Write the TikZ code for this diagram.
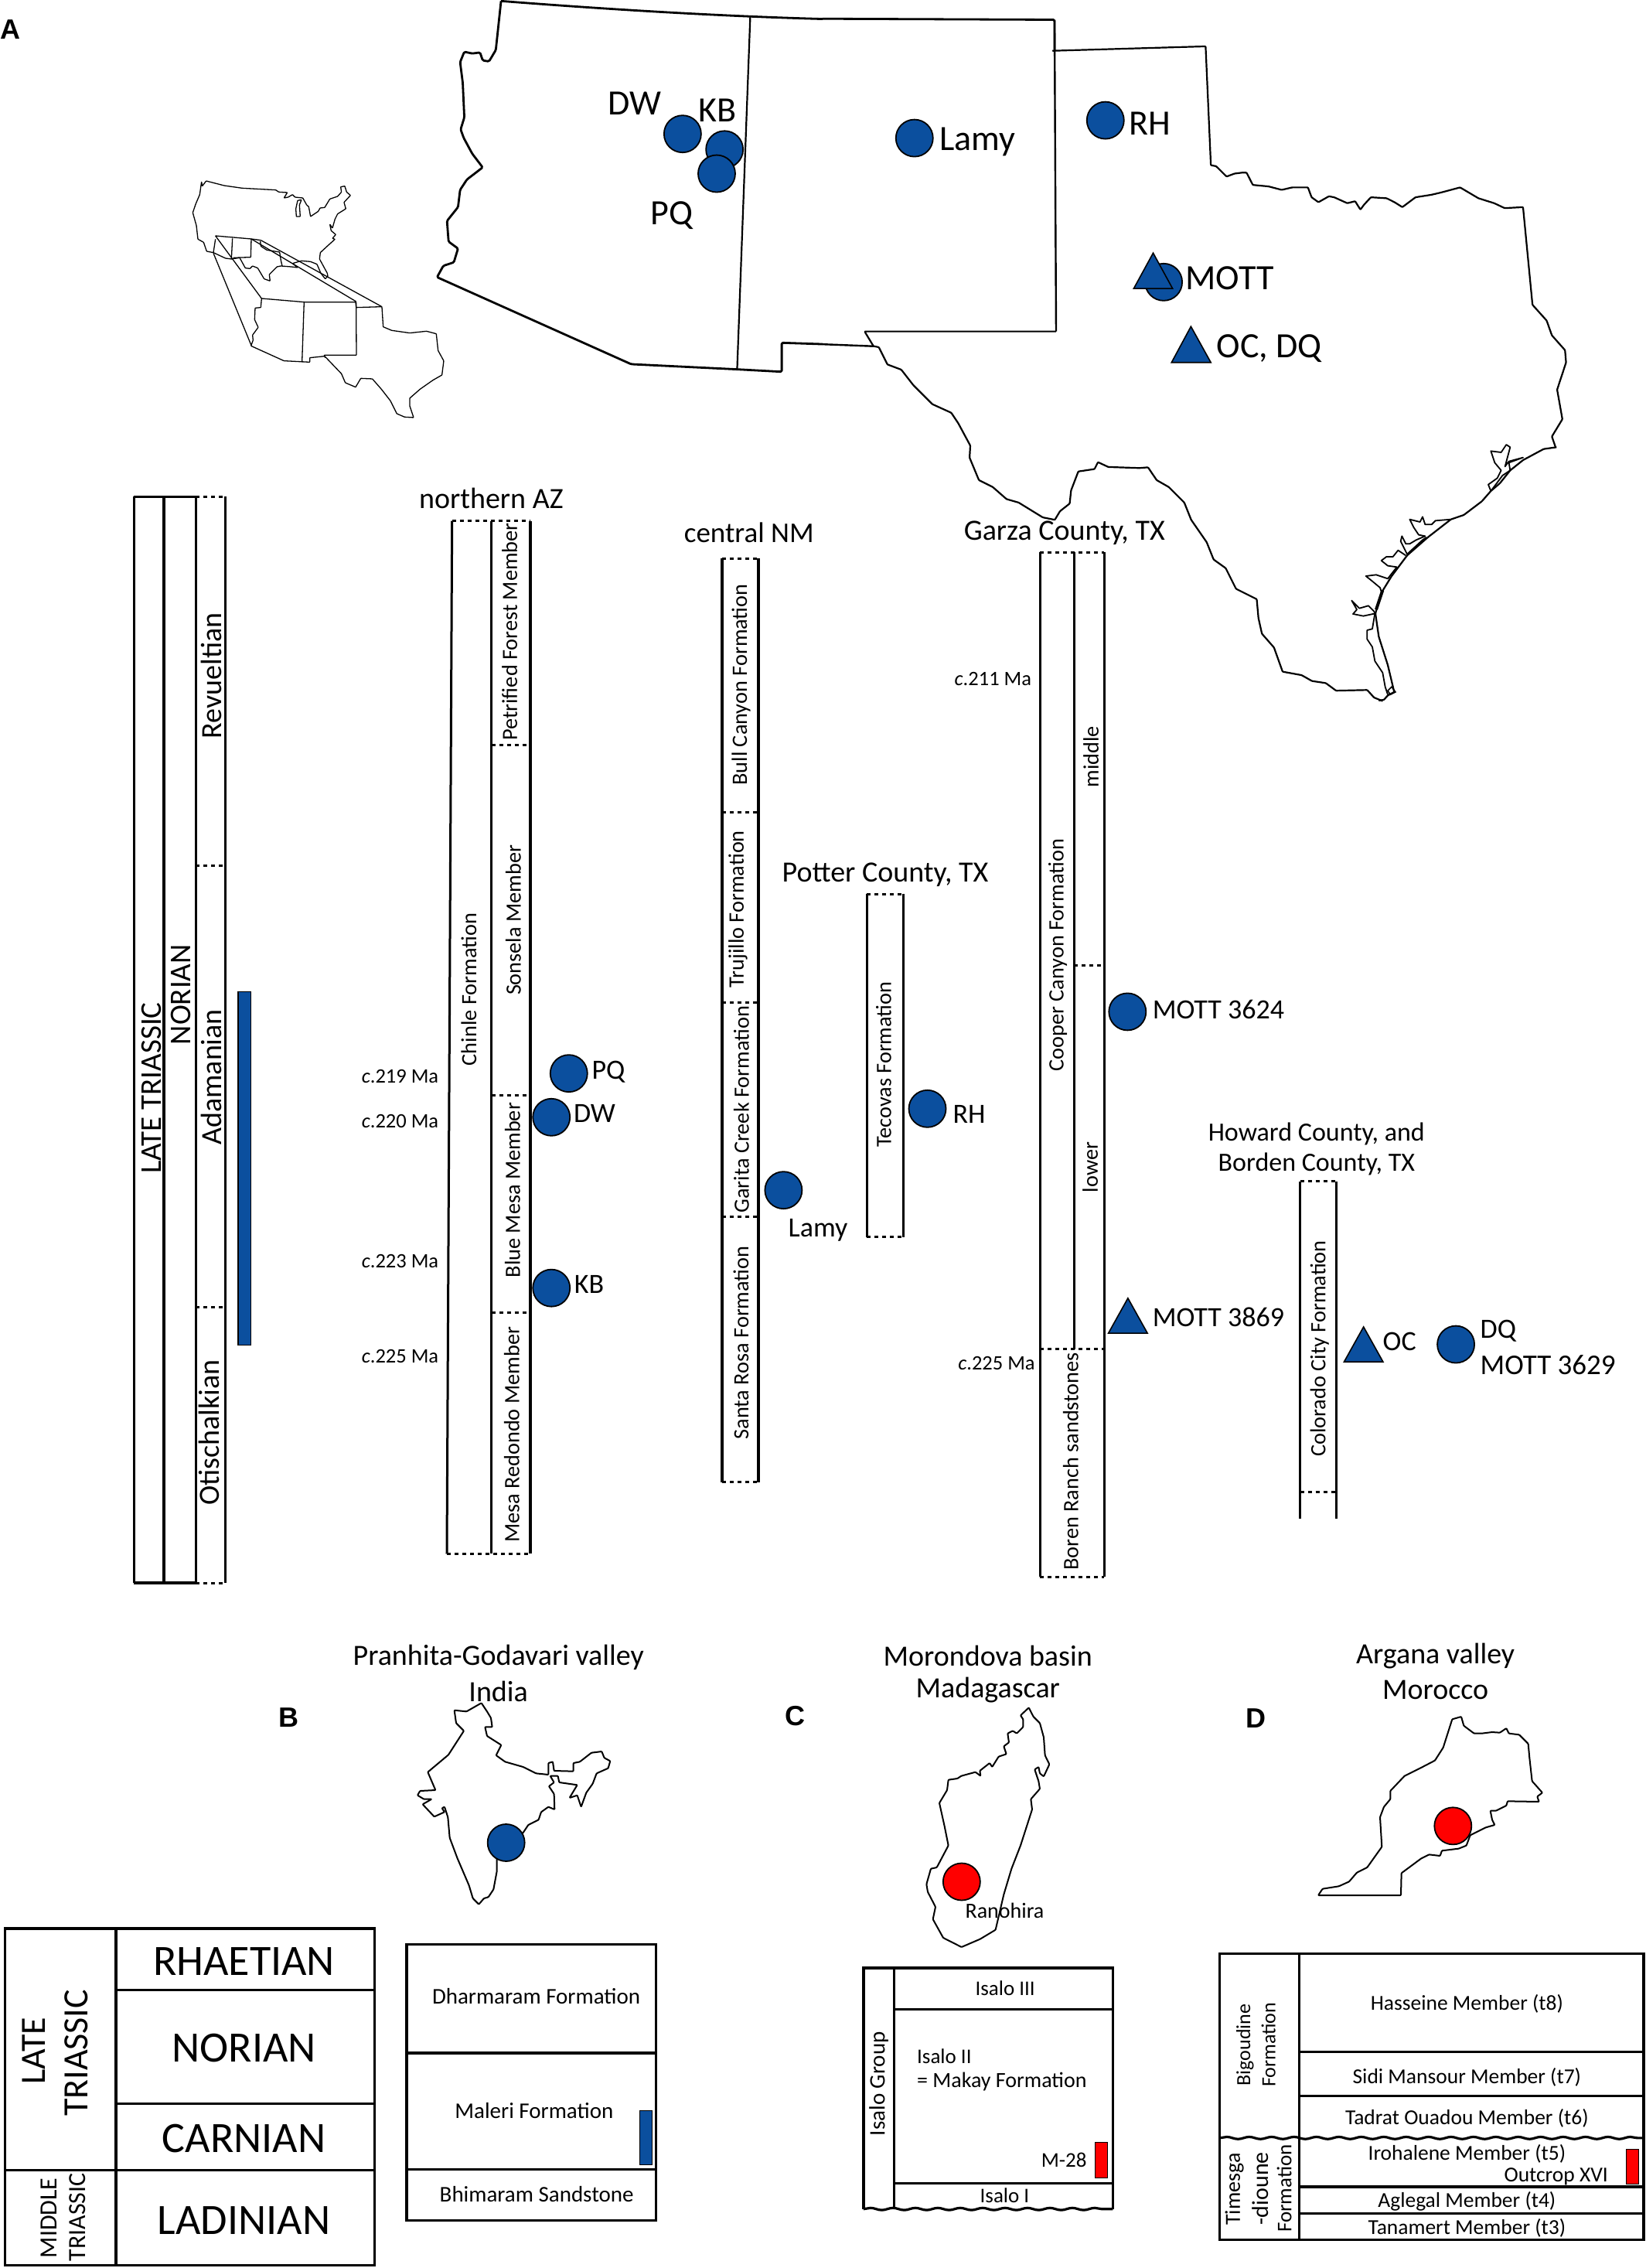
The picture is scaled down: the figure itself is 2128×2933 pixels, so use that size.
\documentclass[tikz,border=0pt]{standalone}
\usepackage{fontspec}
\setmainfont{Carlito}
\newfontfamily\boldlab{Liberation Sans}[BoldFont={Liberation Sans Bold}]
\usetikzlibrary{decorations.pathmorphing}
\definecolor{dotblue}{HTML}{0B4F9E}
\definecolor{dotred}{HTML}{FF0000}
\tikzset{
 zA/.style={x=.6786pt,y=-.4464pt},
 zB/.style={x=.6786pt,y=-.6378pt,shift={(1064pt,0pt)}},
 zC/.style={x=.6786pt,y=-.531pt,shift={(0pt,-2100pt)}},
 zD/.style={x=.6786pt,y=-.531pt,shift={(1064pt,-2100pt)}},
 zE/.style={x=.3954pt,y=-.9439pt,shift={(130pt,-600pt)}},
 zF/.style={x=.4464pt,y=-.8929pt,shift={(750pt,-640pt)}},
 zG/.style={x=.574pt,y=-.9056pt,shift={(1200pt,-660pt)}},
 zI/.style={x=.3333pt,y=-.3333pt,shift={(230pt,-220pt)}},
 zJ/.style={x=.3333pt,y=-.3333pt,shift={(520pt,-2190pt)}},
 zK/.style={x=.3333pt,y=-.3333pt,shift={(1180pt,-2190pt)}},
 zL/.style={x=.3333pt,y=-.3333pt,shift={(1690pt,-2190pt)}},
 zM/.style={x=.3333pt,y=-.3333pt,shift={(1680pt,-540pt)}},
 zN/.style={x=.4464pt,y=-.4464pt,shift={(1130pt,-420pt)}},
 fs/.style={font=\fontsize{#1}{#1}\selectfont,inner sep=0pt,outer sep=0pt,yshift=-2pt},
 fv/.style={font=\fontsize{#1}{#1}\selectfont,inner sep=0pt,outer sep=0pt,rotate=90},
 panel/.style={font=\boldlab\bfseries\fontsize{36}{36}\selectfont,inner sep=0pt},
 dot/.style={circle,draw=black,line width=1.8pt,fill=dotblue,minimum width=46pt,minimum height=48pt,inner sep=0pt},
 reddot/.style={dot,fill=dotred},
 tri/.style={draw=black,line width=1.6pt,fill=dotblue,line join=miter},
 bound/.style={line width=3.4pt,line join=miter},
 dashline/.style={line width=3pt,dash pattern=on 5pt off 5pt},
 thinmap/.style={line width=1.3pt,line join=round,rounded corners=.5pt},
 bigmap/.style={line width=2.8pt,line join=round,rounded corners=1.5pt},
 texas/.style={line width=2.2pt,line join=round,rounded corners=.8pt},
 midmap/.style={line width=2pt,line join=round,rounded corners=.8pt},
 tab/.style={line width=3.2pt,line join=miter},
}
\begin{document}
\begin{tikzpicture}
\useasboundingbox (0pt,0pt) rectangle (2128pt,-2933pt);
\fill[white] (0pt,0pt) rectangle (2128pt,-2933pt);

% ---------- Big map, west part
\begin{scope}[zA]
\draw[bigmap] (955,3) .. controls (1200,32) and (1400,48) .. (1568,55);
\draw[bigmap] (955,3) -- (945,145) -- (932,178) -- (920,175) -- (915,152) -- (900,155) -- (885,150) -- (877,180) -- (882,240) -- (885,340) -- (878,375) -- (884,400) -- (900,445) -- (920,485) -- (890,520) -- (877,550) -- (873,600) -- (852,640) -- (855,700) -- (873,720) -- (865,760) -- (845,770) -- (833,803) -- (1203,1055) -- (1405,1070) -- (1490,1077) -- (1490,993) -- (1568,997);
\draw[line width=2.2pt] (1430,48) -- (1405,1070);
\node[fs=46] (lDWmap) at (1210,295) {DW};
\node[fs=46] (lKBmap) at (1368,315) {KB};
\node[fs=46] (lPQmap) at (1280,620) {PQ};
\node[dot] (dDWmap) at (1301,388) {};
\node[dot] (dKBmap) at (1381,433) {};
\node[dot] (dPQmap) at (1366,503) {};
\node[panel] (pA) at (20,85) {A};
\end{scope}

% ---------- Inset USA
\begin{scope}[zI]
\draw[thinmap] (92,45) -- (95,62) -- (110,42) -- (180,60) -- (250,70) -- (380,77) -- (392,85) -- (425,87) -- (412,108) -- (428,105) -- (445,95) -- (455,105) -- (485,108) -- (500,135) -- (508,142) -- (515,180) -- (545,160) -- (552,147) -- (570,145) -- (590,112) -- (620,102) -- (635,85) -- (632,65) -- (648,62) -- (655,85) -- (670,98) -- (645,125) -- (652,150) -- (620,170) -- (610,190) -- (600,225) -- (590,210) -- (595,235) -- (613,250) -- (600,265) -- (610,268) -- (580,295) -- (553,320) -- (550,345) -- (580,400) -- (582,412) -- (572,422) -- (555,400) -- (540,365) -- (515,355) -- (480,352) -- (445,362) -- (465,378) -- (440,375) -- (400,372) -- (385,375) -- (355,405) -- (358,430) -- (335,422) -- (310,380) -- (290,372) -- (280,382) -- (262,380) -- (240,340) -- (208,345) -- (185,342) -- (138,320) -- (112,315) -- (100,280) -- (78,268) -- (72,215) -- (58,165) -- (70,130) -- (85,95) -- cycle;
\draw[thinmap] (465,118) -- (480,115) -- (472,135) -- (475,180) -- (460,180) -- (458,150) -- cycle;
\draw[thinmap] (146,255) -- (285,267) -- (322,272);
\draw[thinmap] (285,267) -- (283,338) -- (215,340);
\draw[thinmap] (212,265) -- (208,345);
\draw[thinmap] (146,268) -- (138,320);
\draw[thinmap] (320,275) -- (322,295) -- (345,310) -- (395,318) -- (400,350) -- (405,372);
\draw[thinmap] (146,255) -- (325,498);
\draw[thinmap] (138,322) -- (285,680);
\draw[thinmap] (322,272) -- (792,530);
\draw[thinmap] (285,267) -- (692,510);
\draw[thinmap] (325,498) -- (490,512) -- (690,512) -- (692,533) -- (792,530) -- (797,608) -- (830,622) -- (900,632) -- (965,625) -- (1003,635) -- (1010,700) -- (1032,740) -- (1025,795) -- (990,815) -- (940,850) -- (900,885) -- (900,915) -- (915,960) -- (880,958) -- (850,945) -- (825,895) -- (790,850) -- (755,810) -- (710,808) -- (690,842) -- (650,825) -- (635,790) -- (570,722) -- (512,728) -- (512,745) -- (412,740) -- (284,682) -- (292,660) -- (290,640) -- (312,610) -- (298,580) -- (300,535) -- (322,533) -- cycle;
\draw[thinmap] (490,512) -- (482,745);
\draw[thinmap] (692,512) -- (693,718) -- (568,718) -- (572,728);
\end{scope}

% ---------- Big map, east part
\begin{scope}[zB]
\draw[bigmap] (0,38) -- (442,40) -- (442,102);
\draw[line width=2.4pt] (442,40) -- (445,672);
\draw[texas] (438,103) -- (730,94) -- (740,335) -- (750,337) -- (770,358) -- (785,352) -- (800,350) -- (808,350) -- (820,375) -- (850,378) -- (875,385) -- (895,380) -- (925,380) -- (932,400) -- (945,410) -- (965,398) -- (975,400) -- (1000,412) -- (1015,408) -- (1025,425) -- (1032,415) -- (1045,400) -- (1075,402) -- (1090,410) -- (1105,420) -- (1130,400) -- (1160,395) -- (1180,390) -- (1215,380) -- (1250,402) -- (1280,412) -- (1300,422) -- (1335,420) -- (1353,618) -- (1380,650) -- (1390,680) -- (1415,710) -- (1417,735) -- (1400,790) -- (1410,850) -- (1390,885) -- (1397,907);
\draw[line width=2.4pt] (0,698) -- (97,702);
\draw[texas] (97,702) -- (80,672) -- (445,672);
\node[dot] (dLamymap) at (175,280) {};
\node[fs=46] (lLamymap) at (295,285) {Lamy};
\node[dot] (dRHmap) at (539,244) {};
\node[fs=46] (lRHmap) at (624,247) {RH};
\node[dot] (dMOTTmap) at (650,572) {};
\draw[tri] (630,513) -- (667,585) -- (593,585) -- cycle;
\node[fs=46] (lMOTTmap) at (776,561) {MOTT};
\draw[tri] (702,662) -- (740,735) -- (665,735) -- cycle;
\node[fs=46] (lOCmap) at (851,703) {OC, DQ};
\end{scope}

% ---------- Rio Grande
\begin{scope}[zN]
\draw[texas] (0,62) -- (15,65) -- (40,115) -- (80,130) -- (115,175) -- (170,230) -- (225,255) -- (245,285) -- (280,350) -- (278,385) -- (305,450) -- (345,470) -- (385,505) -- (420,515) -- (490,558) -- (525,565) -- (540,540) -- (568,518) -- (572,480) -- (593,425) -- (640,418) -- (650,398) -- (680,412) -- (770,415) -- (795,413) -- (820,450) -- (855,470) -- (900,515) -- (920,565) -- (965,630) -- (985,680) -- (1020,705) -- (1050,765) -- (1110,795) -- (1115,850) -- (1125,895) -- (1160,935) -- (1185,1005) -- (1240,1015) -- (1270,1032) -- (1310,1038) -- (1340,1060) -- (1430,1058) -- (1450,1080) -- (1475,1090);
\end{scope}

% ---------- Texas coast
\begin{scope}[zM]
\draw[texas] (1000,115) -- (950,122) -- (870,165) -- (820,205) -- (780,255) -- (745,285) -- (710,325) -- (640,378) -- (590,395) -- (500,465) -- (420,535) -- (360,615) -- (320,680) -- (297,760) -- (310,850) -- (345,960) -- (370,1065) -- (345,1078) -- (330,1095) -- (310,1098);
\draw[line width=1.8pt,line join=round] (820,205) -- (815,175) -- (870,155) -- (815,170) -- (800,190) -- (820,115) -- (805,105) -- (785,135) -- (745,130) -- (760,175) -- (785,205) -- (770,235) -- (735,260) -- (745,285) -- (790,225) -- cycle;
\draw[line width=1.8pt,line join=round] (590,395) -- (530,400) -- (515,415) -- (490,415) -- (480,385) -- (470,405) -- (430,395) -- (445,425) -- (465,455) -- (490,460) -- (455,475) -- (430,490) -- (415,490) -- (400,460) -- (395,480) -- (420,530) -- (480,475) -- (495,465);
\draw[line width=1.8pt,line join=round] (415,535) -- (385,515) -- (365,540) -- (340,540) -- (320,555) -- (345,575) -- (380,580) -- (345,625) -- (330,620) -- (300,610) -- (260,615) -- (285,635) -- (315,660) -- (320,675);
\draw[line width=1.8pt,line join=round] (290,750) -- (270,730) -- (235,740) -- (205,710) -- (225,745) -- (210,762) -- (250,770) -- (297,760) -- cycle;
\draw[line width=4pt] (325,670) -- (300,745);
\draw[line width=1.8pt,line join=round] (295,760) -- (285,820) -- (265,825) -- (265,860) -- (285,890) -- (295,945) -- (325,990) -- (335,1045) -- (345,1075);
\draw[line width=1.6pt] (345,1060) -- (360,1045) -- (375,1065) -- (355,1075) -- cycle;
\end{scope}

% ---------- Stage column and northern AZ
\begin{scope}[zE]
\foreach \xx in {110,207,312,408} \draw[bound] (\xx,45) -- (\xx,1533);
\draw[bound] (110,45) -- (312,45) (110,1533) -- (312,1533);
\draw[dashline] (312,45) -- (408,45) (312,1533) -- (408,1533) (312,550) -- (408,550) (312,1155) -- (408,1155);
\node[fv=39] (tLate) at (167,855) {LATE TRIASSIC};
\node[fv=39] (tNorian) at (262,727) {NORIAN};
\node[fv=38] (tRev) at (362,290) {Revueltian};
\node[fv=38] (tAda) at (362,840) {Adamanian};
\node[fv=38] (tOti) at (355,1327) {Otischalkian};
\draw[draw=black,line width=1.2pt,fill=dotblue] (450,723) rectangle (492,1207);
\node[fs=38] (tAZ) at (1278,45) {northern AZ};
\draw[line width=3pt] (1150,78) -- (1133,1493);
\draw[bound] (1279,78) -- (1279,1493) (1406,78) -- (1406,1493);
\draw[dashline] (1150,78) -- (1406,78) (1133,1493) -- (1406,1493) (1279,385) -- (1406,385) (1279,865) -- (1406,865) (1279,1163) -- (1406,1163);
\node[fv=28.3] (tChin) at (1205,720) {Chinle Formation};
\node[fv=28.3] (tPet) at (1338,230) {Petrified Forest Member};
\node[fv=28.3] (tSon) at (1350,625) {Sonsela Member};
\node[fv=28.3] (tBlue) at (1348,995) {Blue Mesa Member};
\node[fv=28.3] (tMesa) at (1345,1330) {Mesa Redondo Member};
\node[fs=26.5] (a219) at (980,837) {\textit{c}.219 Ma};
\node[fs=26.5] (a220) at (980,898) {\textit{c}.220 Ma};
\node[fs=26.5] (a223) at (980,1090) {\textit{c}.223 Ma};
\node[fs=26.5] (a225) at (980,1220) {\textit{c}.225 Ma};
\node[dot] (dDW) at (1475,895) {};
\node[dot] (dKB) at (1475,1129) {};
\node[dot] (dPQ) at (1532,835) {};
\end{scope}
\node[fs=36] (lPQ) at (787pt,-1384pt) {PQ};
\node[fs=36] (lDW) at (769pt,-1438pt) {DW};
\node[fs=36] (lKB) at (762pt,-1659pt) {KB};

% ---------- central NM and Potter County
\begin{scope}[zF]
\node[fs=37] (tNM) at (490,52) {central NM};
\draw[bound] (412,92) -- (412,1430) (517,92) -- (517,1430);
\draw[dashline] (412,92) -- (517,92) (412,1430) -- (517,1430) (412,460) -- (517,460) (412,735) -- (517,735) (412,1045) -- (517,1045);
\node[fv=28.3] (tBull) at (467,275) {Bull Canyon Formation};
\node[fv=28.3] (tTruj) at (458,600) {Trujillo Formation};
\node[fv=28.3] (tGar) at (468,890) {Garita Creek Formation};
\node[fv=28.3] (tSR) at (467,1228) {Santa Rosa Formation};
\node[dot] (dLamy) at (590,1007) {};
\node[fs=36] (lLamy) at (690,1063) {Lamy};
\node[fs=38] (tPot) at (885,548) {Potter County, TX};
\draw[bound] (832,578) -- (832,1075) (938,578) -- (938,1075);
\draw[dashline] (832,578) -- (938,578) (832,1075) -- (938,1075);
\node[fv=28.3] (tTec) at (880,825) {Tecovas Formation};
\node[dot] (dRH) at (1007,889) {};
\node[fs=36] (lRH) at (1128,895) {RH};
\end{scope}

% ---------- Garza and Howard
\begin{scope}[zG]
\node[fs=38] (tGarza) at (308,30) {Garza County, TX};
\draw[bound] (253,60) -- (253,1523) (398,60) -- (398,1523) (330,60) -- (330,1198);
\draw[dashline] (253,60) -- (398,60) (330,650) -- (398,650) (253,1198) -- (398,1198) (253,1523) -- (398,1523);
\node[fs=26.5] (a211) at (147,238) {\textit{c}.211 Ma};
\node[fs=26.5] (a225b) at (155,1216) {\textit{c}.225 Ma};
\node[fv=28.3] (tCoop) at (293,635) {Cooper Canyon Formation};
\node[fv=28.3] (tMid) at (368,352) {middle};
\node[fv=28.3] (tLow) at (366,938) {lower};
\node[fv=28.3] (tBor) at (322,1358) {Boren Ranch sandstones};
\node[dot] (dM3624) at (450,716) {};
\node[fs=36] (lM3624) at (655,710) {MOTT 3624};
\draw[tri] (451,1125) -- (495,1175) -- (407,1175) -- cycle;
\node[fs=36] (lM3869) at (655,1150) {MOTT 3869};
\node[fs=34] (tHow) at (876,888) {Howard County, and};
\node[fs=34] (tBor2) at (876,931) {Borden County, TX};
\draw[bound] (839,958) -- (839,1440) (921,958) -- (921,1440);
\draw[dashline] (839,958) -- (921,958) (839,1402) -- (921,1402);
\node[fv=28.3] (tCol) at (883,1197) {Colorado City Formation};
\draw[tri] (982,1166) -- (1026,1216) -- (938,1216) -- cycle;
\node[fs=36] (lOC) at (1063,1185) {OC};
\node[dot] (dDQ) at (1190,1191) {};
\node[fs=36,anchor=west] (lDQ) at (1245,1170) {DQ};
\node[fs=37,anchor=west] (lM3629) at (1245,1218) {MOTT 3629};
\end{scope}

% ---------- India map
\begin{scope}[zJ]
\draw[midmap] (308,37) -- (330,70) -- (345,95) -- (350,130) -- (322,130) -- (330,165) -- (385,200) -- (365,240) -- (400,265) -- (470,285) -- (520,310) -- (568,315) -- (568,270) -- (585,265) -- (590,300) -- (665,302) -- (665,270) -- (690,265) -- (735,230) -- (775,225) -- (785,250) -- (808,262) -- (800,290) -- (755,310) -- (740,350) -- (715,385) -- (695,440) -- (680,395) -- (650,405) -- (680,355) -- (610,345) -- (605,320) -- (575,320) -- (590,345) -- (570,360) -- (590,390) -- (592,450) -- (568,440) -- (540,460) -- (530,490) -- (490,510) -- (470,540) -- (368,640) -- (368,690) -- (355,760) -- (335,790) -- (318,795) -- (298,818) -- (275,795) -- (260,745) -- (215,640) -- (185,560) -- (178,480) -- (165,440) -- (155,445) -- (165,460) -- (125,478) -- (80,430) -- (115,410) -- (85,410) -- (60,395) -- (70,378) -- (130,375) -- (100,305) -- (180,238) -- (240,145) -- (210,115) -- (203,65) -- (250,70) -- cycle;
\node[dot] (dInd) at (404,579) {};
\end{scope}

% ---------- India panel
\begin{scope}[zC]
\node[fs=38] (tPG) at (950,78) {Pranhita-Godavari valley};
\node[fs=38] (tInd) at (950,160) {India};
\node[panel] (pB) at (551,228) {B};
\node[panel] (pC) at (1515,225) {C};
\draw[tab] (10,742) rectangle (714,1562);
\draw[tab] (221,742) -- (221,1562) (221,892) -- (714,892) (221,1168) -- (714,1168) (10,1331) -- (714,1331);
\node[fs=56] (sRh) at (465,818) {RHAETIAN};
\node[fs=56] (sNo) at (465,1030) {NORIAN};
\node[fs=56] (sCa) at (465,1250) {CARNIAN};
\node[fs=56] (sLa) at (465,1450) {LADINIAN};
\node[fv=46] (sLate) at (65,1040) {LATE};
\node[fv=46] (sTri) at (145,1045) {TRIASSIC};
\node[fv=32] (sMid) at (93,1447) {MIDDLE};
\node[fv=32] (sTri2) at (148,1445) {TRIASSIC};
\draw[tab] (775,780) rectangle (1250,1453);
\draw[tab] (775,1045) -- (1250,1045) (775,1328) -- (1250,1328);
\node[fs=29] (fDh) at (1022,903) {Dharmaram Formation};
\node[fs=29] (fMa) at (1018,1182) {Maleri Formation};
\node[fs=29] (fBh) at (1023,1385) {Bhimaram Sandstone};
\draw[draw=black,line width=1pt,fill=dotblue] (1219,1186) rectangle (1243,1318);
\end{scope}

% ---------- Madagascar map
\begin{scope}[zK]
\draw[midmap] (452,55) -- (470,90) -- (495,115) -- (510,170) -- (515,240) -- (532,275) -- (510,322) -- (495,310) -- (490,285) -- (475,295) -- (490,340) -- (495,370) -- (460,410) -- (465,450) -- (420,590) -- (385,680) -- (355,780) -- (323,917) -- (263,953) -- (191,984) -- (120,948) -- (80,876) -- (90,828) -- (60,770) -- (55,740) -- (72,680) -- (95,675) -- (140,590) -- (125,515) -- (105,425) -- (135,375) -- (140,335) -- (175,330) -- (190,320) -- (245,305) -- (265,320) -- (262,300) -- (300,270) -- (310,285) -- (335,245) -- (365,235) -- (355,205) -- (375,190) -- (370,155) -- (390,145) -- (405,155) -- (430,130) -- (430,100) -- (420,85) -- cycle;
\end{scope}
% ---------- Morocco map
\begin{scope}[zL]
\draw[midmap] (600,90) -- (610,125) -- (650,155) -- (680,155) -- (720,150) -- (750,152) -- (775,135) -- (785,155) -- (825,160) -- (860,195) -- (865,250) -- (875,340) -- (915,385) -- (895,400) -- (902,420) -- (780,418) -- (775,435) -- (735,455) -- (713,455) -- (720,490) -- (730,510) -- (695,520) -- (635,550) -- (620,590) -- (590,602) -- (525,610) -- (518,630) -- (475,625) -- (445,640) -- (368,697) -- (366,783) -- (45,783) -- (62,758) -- (125,748) -- (165,730) -- (195,695) -- (235,675) -- (292,595) -- (285,480) -- (300,440) -- (325,410) -- (325,378) -- (380,320) -- (450,285) -- (498,260) -- (530,210) -- (565,100) -- cycle;
\node[reddot] (dArg) at (568,514) {};
\end{scope}

% ---------- Madagascar and Morocco panels
\begin{scope}[zD]
\node[fs=38] (tMor) at (315,75) {Morondova basin};
\node[fs=38] (tMad) at (315,158) {Madagascar};
\node[fs=38] (tArg) at (1168,75) {Argana valley};
\node[fs=38] (tMoc) at (1168,158) {Morocco};
\node[panel] (pD) at (826,230) {D};
\node[reddot] (dRan) at (265,628) {};
\node[fs=28] (tRan) at (347,695) {Ranohira};
% table C
\draw[tab] (78,1425) -- (78,838) -- (553,838) -- (553,1425);
\draw[tab] (136,838) -- (136,1425) (136,938) -- (553,938) (136,1362) -- (553,1362);
\draw[tab,decorate,decoration={snake,amplitude=1.4pt,segment length=29pt}] (78,1425) -- (553,1425);
\node[fv=29] (cGr) at (107,1120) {Isalo Group};
\node[fs=27] (cIII) at (348,884) {Isalo III};
\node[fs=27,anchor=west] (cII) at (180,1050) {Isalo II};
\node[fs=28,anchor=west] (cMak) at (180,1112) {= Makay Formation};
\node[fs=27] (cM) at (460,1302) {M-28};
\draw[draw=black,line width=1pt,fill=dotred] (520,1263) rectangle (543,1350);
\node[fs=27] (cI) at (347,1388) {Isalo I};
% table D
\draw[tab] (757,803) rectangle (1565,1500);
\draw[tab] (908,803) -- (908,1500) (908,1043) -- (1565,1043) (908,1150) -- (1565,1150) (908,1371) -- (1565,1371) (908,1436) -- (1565,1436);
\draw[tab,decorate,decoration={snake,amplitude=1.4pt,segment length=29pt}] (757,1252) -- (1565,1252);
\node[fs=27.5] (dT8) at (1228,922) {Hasseine Member (t8)};
\node[fs=27.5] (dT7) at (1228,1100) {Sidi Mansour Member (t7)};
\node[fs=27.5] (dT6) at (1228,1200) {Tadrat Ouadou Member (t6)};
\node[fs=27.5] (dT5) at (1228,1287) {Irohalene Member (t5)};
\node[fs=27.5] (dOut) at (1398,1342) {Outcrop XVI};
\node[fs=27.5] (dT4) at (1228,1403) {Aglegal Member (t4)};
\node[fs=27.5] (dT3) at (1228,1468) {Tanamert Member (t3)};
\node[fv=26] (dBig) at (805,1025) {Bigoudine};
\node[fv=26] (dFor) at (850,1025) {Formation};
\node[fv=28] (dTim) at (785,1377) {Timesga};
\node[fv=30] (dDio) at (835,1375) {-dioune};
\node[fv=27] (dFo2) at (880,1375) {Formation};
\draw[draw=black,line width=1pt,fill=dotred] (1532,1280) rectangle (1555,1365);
\end{scope}
\end{tikzpicture}
\end{document}
